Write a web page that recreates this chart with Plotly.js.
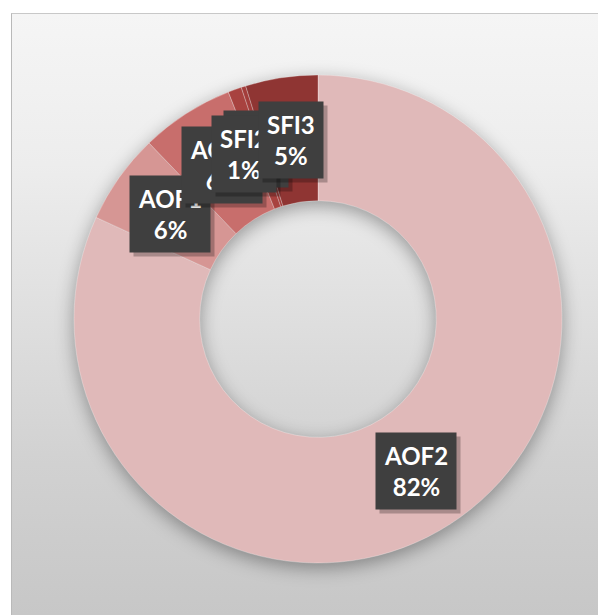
<!DOCTYPE html>
<html>
<head>
<meta charset="utf-8">
<script src="https://cdn.plot.ly/plotly-3.0.1.min.js"></script>
<style>
  html, body { margin: 0; padding: 0; background: #ffffff; }
  #panel {
    position: absolute; left: 11px; top: 13px; width: 587px; height: 602px;
    border-left: 1px solid #b9b9b9; border-top: 1px solid #c8c8c8; box-sizing: border-box;
    background: linear-gradient(to bottom, #f5f5f5 0%, #ededed 25%, #dfdfdf 50%, #d1d1d1 75%, #c7c7c7 100%);
  }
  #chart { position: absolute; left: 0; top: 0; width: 598px; height: 615px; }
  .pielayer { filter: drop-shadow(0px 5px 9px rgba(0,0,0,0.35)); }
</style>
</head>
<body>
<div id="panel"></div>
<div id="chart"></div>
<script>
// Data (clockwise from 12 o'clock)
const labels = ['AOF2', 'AOF1', 'AOF3', 'SFI2', 'SFI1', 'SFI3'];
const values = [82, 6, 6.2, 0.9, 0.3, 4.8];
const colors = ['#e0b9b9', '#d69694', '#c86e6c', '#a8423f', '#a33d3b', '#8f3533'];
// drawing order of the data labels (bottom to top)
const labelStack = ['AOF2', 'AOF1', 'AOF3', 'SFI1', 'SFI2', 'SFI3'];
// manual label nudges (degrees, clockwise positive), like dragged Excel labels
const labelNudge = { SFI2: -4.3, SFI1: -2.1, AOF3: 0.8 };

const hole = 0.485;
const total = values.reduce((a, b) => a + b, 0);

// mid-angle of each slice (clockwise from top, radians)
const mids = [];
let acc = 0;
values.forEach(v => {
  mids.push(((acc + v / 2) / total) * 2 * Math.PI);
  acc += v;
});

const rLab = 0.5 * (1 + hole) / 2; // fraction of domain width
const font = 'Lato, "Open Sans", sans-serif';
const annotations = [];
labelStack.forEach(name => {
  const i = labels.indexOf(name);
  const a = mids[i] + ((labelNudge[name] || 0) * Math.PI / 180);
  const x = 0.5 + rLab * Math.sin(a);
  const y = 0.5 + rLab * Math.cos(a);
  const txt = '<b>' + labels[i] + '</b><br><b>' + Math.round(values[i] / total * 100) + '%</b>';
  // soft shadow
  annotations.push({
    xref: 'paper', yref: 'paper', x: x, y: y, xanchor: 'center', yanchor: 'middle',
    text: txt, showarrow: false, xshift: 4, yshift: -4,
    font: { family: font, size: 24, color: 'rgba(0,0,0,0)' },
    bgcolor: 'rgba(0,0,0,0.25)', borderpad: 8
  });
  annotations.push({
    xref: 'paper', yref: 'paper', x: x, y: y, xanchor: 'center', yanchor: 'middle',
    text: txt, showarrow: false,
    font: { family: font, size: 24, color: '#ffffff' },
    bgcolor: '#3f3f3f', borderpad: 8
  });
});

const trace = {
  type: 'pie',
  labels: labels,
  values: values,
  hole: hole,
  sort: false,
  direction: 'clockwise',
  rotation: 0,
  textinfo: 'none',
  hoverinfo: 'label+percent',
  marker: { colors: colors, line: { color: 'rgba(255,255,255,0.35)', width: 0.8 } },
  showlegend: false
};

const layout = {
  width: 598, height: 615,
  margin: { l: 74, r: 36, t: 75, b: 52, pad: 0 },
  paper_bgcolor: 'rgba(0,0,0,0)',
  plot_bgcolor: 'rgba(0,0,0,0)',
  showlegend: false,
  annotations: annotations
};

Plotly.newPlot('chart', [trace], layout, { displayModeBar: false, staticPlot: true });
</script>
</body>
</html>
